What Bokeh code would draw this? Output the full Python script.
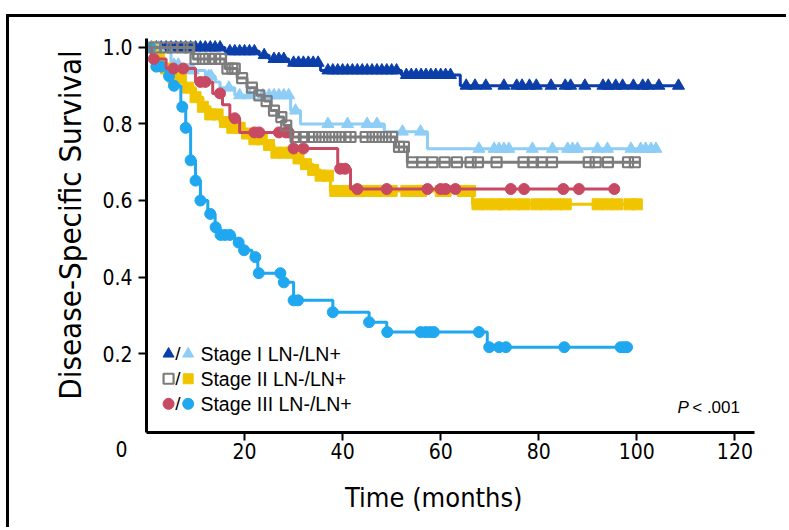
import numpy as np
from bokeh.plotting import figure
from bokeh.models import Label, FixedTicker, Range1d, NumeralTickFormatter
from bokeh.embed import file_html
from bokeh.resources import INLINE

# Kaplan-Meier curves: step times (months) and survival after each step,
# plus censoring times drawn as markers on the curve.
s1_neg_t = [0, 16, 23, 25, 29, 35.5, 52, 64, 108.5]
s1_neg_s = [1.0, 0.99, 0.98, 0.97, 0.96, 0.94, 0.928, 0.90, 0.90]
s1_neg_c = [1, 2, 3, 4, 5, 6, 7, 8, 9, 10, 11, 12, 13, 14, 15, 17, 18, 19, 20, 21, 22,
            24, 26, 27, 28, 30, 31, 32, 33, 34, 35, 37, 38, 39, 40, 41, 42, 43, 44,
            45, 46, 47, 48, 49, 50, 51, 53, 54, 55, 56, 57, 58, 59, 60, 61, 62,
            65.2, 67, 69.2, 72.9, 75.5, 76.6, 78.1, 79.5, 82.5, 85.4, 86.5, 89.4,
            93.1, 94.2, 95.7, 97.1, 99.3, 101.2, 102.3, 104.5, 108.5]

s1_pos_t = [0, 5, 9, 12, 14, 15, 18, 29.4, 31.4, 48.5, 57.3, 104]
s1_pos_s = [1.0, 0.955, 0.94, 0.925, 0.91, 0.895, 0.875, 0.835, 0.80, 0.78, 0.735, 0.735]
s1_pos_c = [1, 2.5, 5.6, 6.5, 9.5, 12.7, 13.2, 16.8, 19, 21, 23.7, 25, 26, 27, 28, 29,
            30.4, 37, 41, 45, 47, 52.2, 55.9, 67.8, 70.9, 71.9, 72.9, 73.9, 78.7,
            82.8, 85.9, 86.9, 87.9, 92, 94, 98.8, 100.8, 101.8, 102.9, 103.9]

s2_neg_t = [0, 9.5, 16, 18.5, 20.5, 22.5, 24, 25.3, 26.7, 28, 29.4, 50.8, 53.2, 100.5]
s2_neg_s = [1.0, 0.97, 0.945, 0.92, 0.895, 0.875, 0.86, 0.835, 0.818, 0.796, 0.766,
            0.74, 0.70, 0.70]
s2_neg_c = [1.8, 3.9, 5.3, 7.3, 8.7, 10, 11.5, 12.8, 14, 15.2, 16.5, 17.5, 18, 19.5,
            21.5, 23, 24.5, 26, 27.5, 28.5, 30.4, 32.1, 33.8, 35.2, 36.5, 37.9, 39.3,
            40.6, 41.6, 44.7, 46.1, 47.4, 48.8, 50.1, 51.5, 52.5, 54.2, 56.2, 58.3,
            60.8, 63.3, 66.1, 67.6, 71.4, 76.9, 78.8, 80.6, 82.7, 90.2, 91.6, 94.1,
            98.2, 99.6]

s2_pos_t = [0, 1.5, 3.5, 5, 7.5, 10, 11.5, 13, 15, 17.5, 20, 22, 24, 26, 30, 32, 34,
            35.5, 37.5, 66.5, 100.5]
s2_pos_s = [1.0, 0.975, 0.945, 0.92, 0.895, 0.87, 0.845, 0.825, 0.805, 0.79, 0.775,
            0.76, 0.745, 0.725, 0.71, 0.695, 0.68, 0.665, 0.625, 0.59, 0.59]
s2_pos_c = [1, 2.5, 4, 5.5, 7, 8.5, 10, 11.5, 13, 14.5, 16, 17.5, 19, 20.5, 22, 23.5,
            25, 26.5, 28, 29.5, 31, 32.5, 34, 35.5, 37, 38.5, 40.5, 42.5, 44.5, 46.5,
            48.5, 50, 53, 55, 56, 60, 61, 64.5, 66, 67.5, 69.5, 71.5, 73, 75, 77,
            79.5, 81.5, 83.5, 85.5, 92, 94, 96, 98.5, 100]

s3_neg_t = [0, 1, 4, 10, 13.5, 15.5, 17, 19, 29.7, 39, 41.6, 95.5]
s3_neg_s = [1.0, 0.97, 0.945, 0.91, 0.88, 0.85, 0.815, 0.778, 0.736, 0.683, 0.63, 0.63]
s3_neg_c = [1.5, 5.5, 7.5, 11, 12, 15, 18, 22, 23, 27, 28.4, 29, 30, 32, 39.5, 40.5,
            43, 49, 57.3, 60, 61, 63, 74.3, 77, 85, 88.2, 95.4]

s3_pos_t = [0, 1, 2, 4, 5, 7, 8, 9, 10, 11, 12.5, 14, 15, 18, 19.5, 21.5, 22.7, 28,
            30, 38, 45.4, 49, 69.5, 98]
s3_pos_s = [1.0, 0.975, 0.95, 0.925, 0.90, 0.845, 0.79, 0.705, 0.652, 0.60, 0.565,
            0.53, 0.51, 0.49, 0.47, 0.452, 0.41, 0.386, 0.339, 0.308, 0.282, 0.256,
            0.2165, 0.2165]
s3_pos_c = [0.8, 2, 3, 4.6, 5.6, 7.3, 8, 9, 10, 11, 13, 14.1, 15.1, 16, 17, 18.8, 19.9,
            22.2, 22.9, 27.3, 28, 30, 30.9, 38, 45.4, 49.1, 55.9, 56.9, 57.8, 58.6,
            67.8, 69.9, 71.9, 73.3, 85.2, 96.7, 97.4, 98]

x_ticks = [20, 40, 60, 80, 100, 120]
y_ticks = [0.2, 0.4, 0.6, 0.8, 1.0]

DARK_BLUE = "#0b3ea8"
LIGHT_BLUE = "#8dcdf6"
GRAY = "#7c7c7c"
YELLOW = "#f0c500"
RED = "#c84a62"
SKY = "#1fa8f0"

TITLE_FONT = "DejaVu Sans Condensed"
TEXT_FONT = "Liberation Sans"


def at(times, surv, c):
    idx = np.searchsorted(np.asarray(times), np.asarray(c, dtype=float), side="right") - 1
    return [surv[i] for i in idx]


p = figure(width=780, height=513, x_range=Range1d(0, 124), y_range=Range1d(-0.0065, 1.0235),
           output_backend="svg", toolbar_location=None,
           min_border_left=137, min_border_right=35, min_border_top=21, min_border_bottom=98)
p.styles = {"margin-left": "6px", "margin-top": "14px",
            "border-left": "3px solid #000", "border-top": "3px solid #000"}
p.grid.visible = False
p.outline_line_color = None
p.background_fill_color = "white"
p.border_fill_color = "white"

for ax in (p.xaxis[0], p.yaxis[0]):
    ax.axis_line_width = 3
    ax.axis_line_color = "black"
    ax.major_tick_line_width = 2
    ax.major_tick_out = 8
    ax.major_tick_in = 0
    ax.minor_tick_line_color = None
    ax.major_label_text_font = TITLE_FONT
    ax.major_label_text_font_size = "21px"
    ax.major_label_text_color = "black"

p.xaxis.ticker = FixedTicker(ticks=x_ticks)
p.yaxis.ticker = FixedTicker(ticks=y_ticks)
p.yaxis.formatter = NumeralTickFormatter(format="0.0")
p.xaxis.major_label_standoff = 2
p.yaxis.major_label_standoff = 6

# origin label and axis titles sit outside the data frame, so they go in side
# panels (annotations in the centre are clipped to the frame)
p.add_layout(Label(x=0, y=-0.0065, x_offset=-25, y_offset=-8, text="0",
                   text_align="center", text_baseline="top", text_color="black",
                   text_font=TITLE_FONT, text_font_size="21px"), "left")
p.add_layout(Label(x=58.6, y=-0.0065, y_offset=-49, text="Time (months)",
                   text_align="center", text_baseline="top", text_color="black",
                   text_font=TITLE_FONT, text_font_size="27px"), "below")
p.add_layout(Label(x=0, y=0.536, x_offset=-77, text="Disease-Specific Survival",
                   angle=np.pi / 2, text_align="center", text_baseline="middle",
                   text_color="black", text_font=TITLE_FONT, text_font_size="31px"), "left")

curves = [
    (s1_neg_t, s1_neg_s, s1_neg_c, DARK_BLUE, "triangle"),
    (s1_pos_t, s1_pos_s, s1_pos_c, LIGHT_BLUE, "triangle"),
    (s2_pos_t, s2_pos_s, s2_pos_c, YELLOW, "square"),
    (s3_pos_t, s3_pos_s, s3_pos_c, SKY, "circle"),
    (s3_neg_t, s3_neg_s, s3_neg_c, RED, "circle"),
    (s2_neg_t, s2_neg_s, s2_neg_c, GRAY, "square_open"),
]

for t, s, c, color, marker in curves:
    p.step(x=t, y=s, mode="after", line_color=color, line_width=3)
    cy = at(t, s, c)
    if marker == "square_open":
        p.scatter(x=c, y=cy, marker="square", size=10, fill_alpha=0,
                  line_color=color, line_width=2.2)
    elif marker == "square":
        p.scatter(x=c, y=cy, marker="square", size=11, color=color)
    elif marker == "triangle":
        p.scatter(x=c, y=cy, marker="triangle", size=12, color=color)
    else:
        p.scatter(x=c, y=cy, marker="circle", size=11, color=color)

# legend block, lower left
leg_rows = [
    ("Stage I LN-/LN+", "triangle", DARK_BLUE, LIGHT_BLUE, 0.199),
    ("Stage II LN-/LN+", "square", GRAY, YELLOW, 0.134),
    ("Stage III LN-/LN+", "circle", RED, SKY, 0.0685),
]
for text, marker, c1, c2, yy in leg_rows:
    if marker == "square":
        p.scatter(x=[4.5], y=[yy], marker="square", size=10, fill_alpha=0,
                  line_color=c1, line_width=2.2)
        p.scatter(x=[8.5], y=[yy], marker="square", size=10, color=c2)
    else:
        p.scatter(x=[4.5, 8.5], y=[yy, yy], marker=marker, size=11, color=[c1, c2])
    p.add_layout(Label(x=6.4, y=yy, text="/", text_align="center", text_baseline="middle",
                       text_color="black", text_font=TEXT_FONT, text_font_size="19px"))
    p.add_layout(Label(x=11.0, y=yy, text=text, text_baseline="middle",
                       text_color="black", text_font=TEXT_FONT, text_font_size="19.5px"))

p.add_layout(Label(x=108.3, y=0.059, text="P", text_baseline="middle", text_color="black",
                   text_font=TEXT_FONT, text_font_size="17px", text_font_style="italic"))
p.add_layout(Label(x=111.3, y=0.059, text="< .001", text_baseline="middle",
                   text_color="black", text_font=TEXT_FONT, text_font_size="17px"))

open("out.html", "w").write(file_html(p, INLINE))
